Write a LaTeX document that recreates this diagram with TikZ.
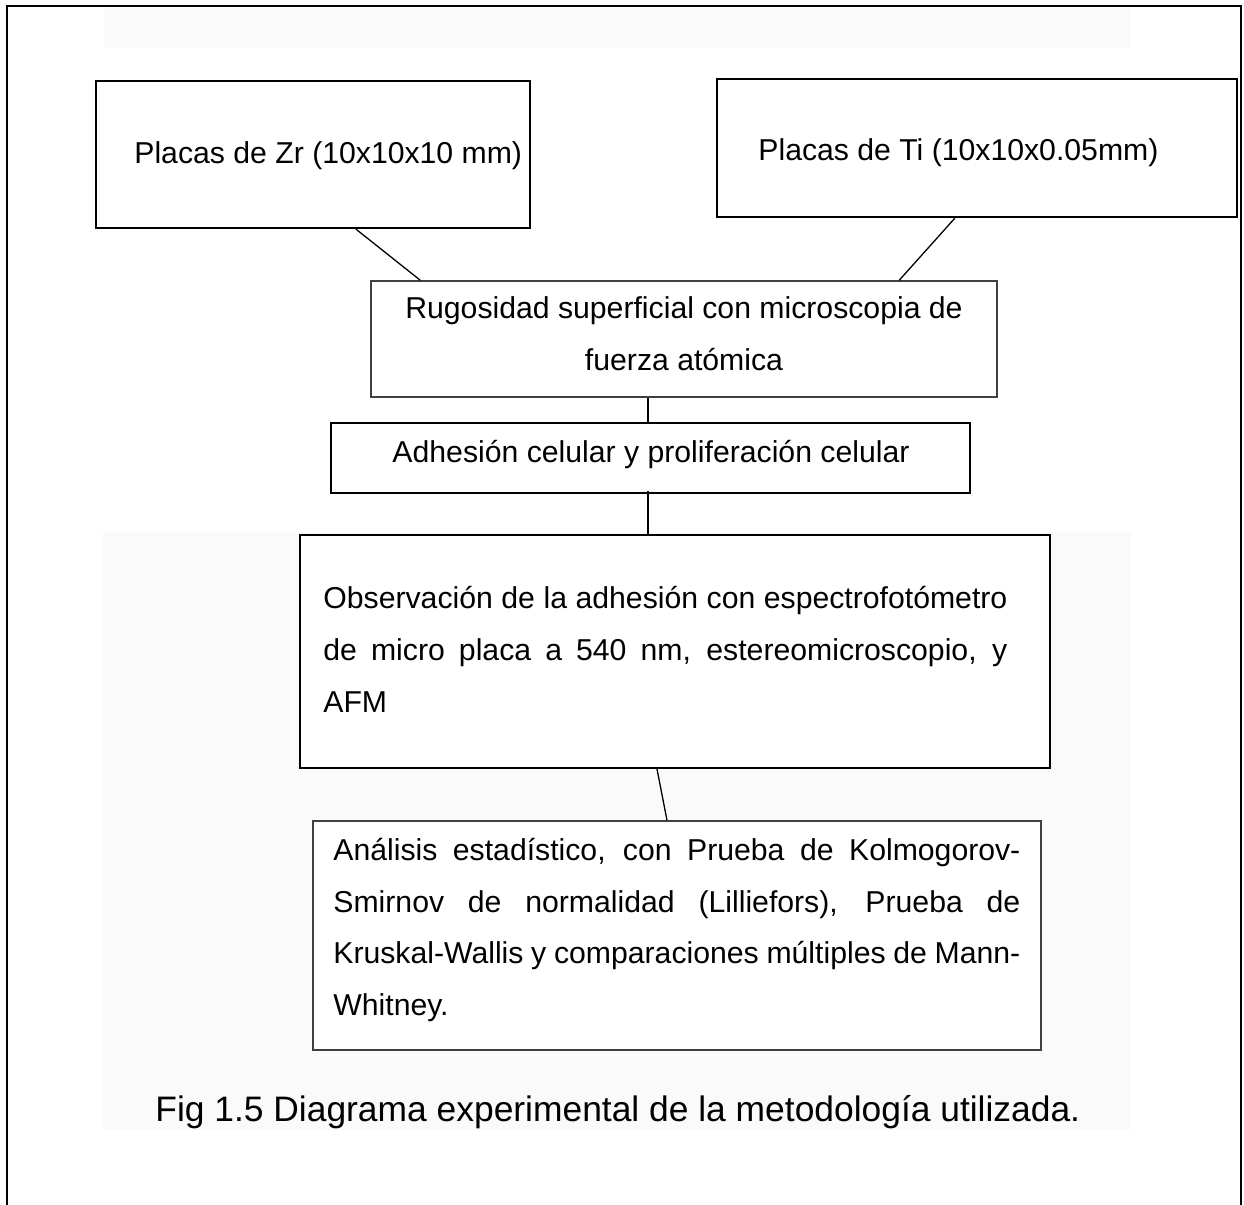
\documentclass[tikz,border=0pt]{standalone}
\usepackage{fontspec}
\setmainfont{Liberation Sans}
\usetikzlibrary{fit}
\definecolor{bandgray}{RGB}{250,250,250}
\newcommand\bodyfnt{\fontsize{15.1pt}{26pt}\selectfont}
\newcommand\capfnt{\fontsize{17.7pt}{22pt}\selectfont}
\begin{document}
\begin{tikzpicture}[x=0.5pt,y=-0.5pt,
  box/.style={draw=black, line width=1.1pt, fill=white, inner sep=0pt},
  thinbox/.style={draw=black!75, line width=0.75pt, fill=white, inner sep=0pt},
  txt/.style={inner sep=0pt, anchor=base west, font=\bodyfnt},
  conn/.style={line width=0.65pt}]
\useasboundingbox (0,0) rectangle (1244,1205);
% background bands
\fill[bandgray] (104,8) rectangle (1131,48);
\fill[bandgray] (103,532) rectangle (1131,1130);
% outer frame
\draw[line width=0.9pt] (7,1210) -- (7,6) -- (1241,6) -- (1241,1210);
% boxes
\node[box, fit={(96,81)(530,228)}] (zr) {};
\node[box, fit={(717,79)(1237,217)}] (ti) {};
\node[thinbox, fit={(371,281)(997,397)}] (rug) {};
\node[box, fit={(331,423)(970,493)}] (adh) {};
\node[box, fit={(300,535)(1050,768)}] (obs) {};
\node[thinbox, fit={(313,821)(1041,1050)}] (ana) {};
% connectors
\draw[conn] ([xshift=130.5pt]zr.south west) -- ([xshift=25pt]rug.north west);
\draw[conn] ([xshift=119.5pt]ti.south west) -- ([xshift=264.5pt]rug.north west);
\draw[conn] ([xshift=-18pt]rug.south) -- ([xshift=-18pt]rug.south |- adh.north);
\draw[conn] ([xshift=-1.25pt,yshift=1.5pt]adh.south) -- ([xshift=-1.25pt]adh.south |- obs.north);
\draw[conn] ([xshift=-9pt]obs.south) -- ([xshift=-5pt]ana.north);
% texts
\node[txt] (zrT) at (134,163) {Placas de Zr (10x10x10 mm)};
\node[txt] (tiT) at (758,160) {Placas de Ti (10x10x0.05mm)};
\node[txt, anchor=base] (rugA) at (684,318) {Rugosidad superficial con microscopia de};
\node[txt, anchor=base] (rugB) at (684,370) {fuerza atómica};
\node[txt, anchor=base] (adhT) at (651,462) {Adhesión celular y proliferación celular};
\node[txt] (obsA) at (323,608) {\makebox[342pt][s]{Observación de la adhesión con espectrofotómetro}};
\node[txt] (obsB) at (323,660) {\makebox[342pt][s]{de micro placa a 540 nm, estereomicroscopio, y}};
\node[txt] (obsC) at (323,712) {AFM};
\node[txt] (anaA) at (333,860) {\makebox[343.5pt][s]{Análisis estadístico, con Prueba de Kolmogorov-}};
\node[txt] (anaB) at (333,912) {\makebox[343.5pt][s]{Smirnov de normalidad (Lilliefors), Prueba de}};
\node[txt] (anaC) at (333,963) {\makebox[343.5pt][s]{Kruskal-Wallis y comparaciones múltiples de Mann-}};
\node[txt] (anaD) at (333,1015) {Whitney.};
\node[txt, font=\capfnt] (cap) at (155,1121) {Fig 1.5 Diagrama experimental de la metodología utilizada.};
\end{tikzpicture}
\end{document}
